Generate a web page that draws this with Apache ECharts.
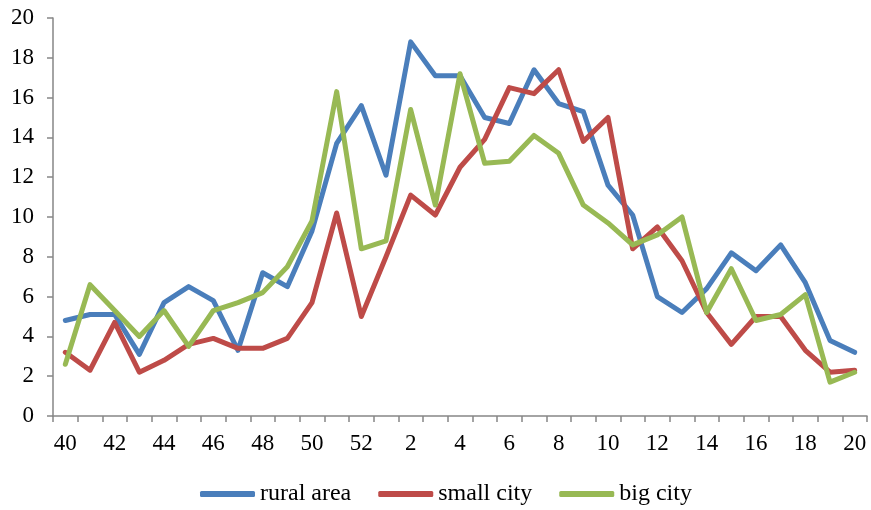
<!DOCTYPE html>
<html>
<head>
<meta charset="utf-8">
<script src="https://cdn.jsdelivr.net/npm/echarts@6/dist/echarts.min.js"></script>
<style>
  html, body { margin: 0; padding: 0; background: #fff; }
  #chart { width: 871px; height: 510px; }
</style>
</head>
<body>
<div id="chart"></div>
<script>
// Weeks 40–52 of one year, then weeks 1–20 of the next
const weeks = ['40','41','42','43','44','45','46','47','48','49','50','51','52',
  '1','2','3','4','5','6','7','8','9','10','11','12','13','14','15','16','17','18','19','20'];

const seriesNames = ['rural area', 'small city', 'big city'];

const ruralArea = [4.8, 5.1, 5.1, 3.1, 5.7, 6.5, 5.8, 3.3, 7.2, 6.5, 9.3, 13.7, 15.6,
  12.1, 18.8, 17.1, 17.1, 15.0, 14.7, 17.4, 15.7, 15.3, 11.6, 10.1, 6.0, 5.2, 6.4,
  8.2, 7.3, 8.6, 6.7, 3.8, 3.2];

const smallCity = [3.2, 2.3, 4.7, 2.2, 2.8, 3.6, 3.9, 3.4, 3.4, 3.9, 5.7, 10.2, 5.0,
  8.0, 11.1, 10.1, 12.5, 13.9, 16.5, 16.2, 17.4, 13.8, 15.0, 8.4, 9.5, 7.8, 5.2,
  3.6, 5.0, 5.0, 3.3, 2.2, 2.3];

const bigCity = [2.6, 6.6, 5.3, 4.0, 5.3, 3.5, 5.3, 5.7, 6.2, 7.5, 9.8, 16.3, 8.4,
  8.8, 15.4, 10.6, 17.2, 12.7, 12.8, 14.1, 13.2, 10.6, 9.7, 8.6, 9.1, 10.0, 5.2,
  7.4, 4.8, 5.1, 6.1, 1.7, 2.2];

const colors = ['#4A7EBB', '#BE4B48', '#98B954'];
const fontFamily = '"Liberation Serif", "Times New Roman", serif';
const axisGrey = '#868686';

const chart = echarts.init(document.getElementById('chart'), null, { renderer: 'canvas' });

const makeLine = (name, data, color) => ({
  name,
  type: 'line',
  data,
  showSymbol: false,
  symbol: 'none',
  smooth: false,
  lineStyle: { color, width: 5, cap: 'round', join: 'round' },
  itemStyle: { color },
  emphasis: { disabled: true },
  animation: false
});

chart.setOption({
  animation: false,
  color: colors,
  textStyle: { fontFamily },
  grid: { left: 53, right: 4, top: 18, bottom: 94, containLabel: false },
  legend: {
    left: 195,
    top: 477,
    itemWidth: 55,
    itemHeight: 6,
    itemGap: 27,
    icon: 'roundRect',
    textStyle: { fontFamily, fontSize: 24, color: '#000' },
    data: seriesNames
  },
  xAxis: {
    type: 'category',
    data: weeks,
    boundaryGap: true,
    axisLine: { lineStyle: { color: axisGrey, width: 1.5 } },
    axisTick: { show: true, length: 6, interval: 0, lineStyle: { color: axisGrey, width: 1.5 } },
    axisLabel: { interval: 1, color: '#000', fontFamily, fontSize: 23, margin: 16 },
    splitLine: { show: false }
  },
  yAxis: {
    type: 'value',
    min: 0,
    max: 20,
    interval: 2,
    axisLine: { show: true, lineStyle: { color: axisGrey, width: 1.5 } },
    axisTick: { show: true, length: 6, lineStyle: { color: axisGrey, width: 1.5 } },
    axisLabel: { color: '#000', fontFamily, fontSize: 23, margin: 19 },
    splitLine: { show: false }
  },
  series: [
    makeLine(seriesNames[0], ruralArea, colors[0]),
    makeLine(seriesNames[1], smallCity, colors[1]),
    makeLine(seriesNames[2], bigCity, colors[2])
  ]
});
</script>
</body>
</html>
